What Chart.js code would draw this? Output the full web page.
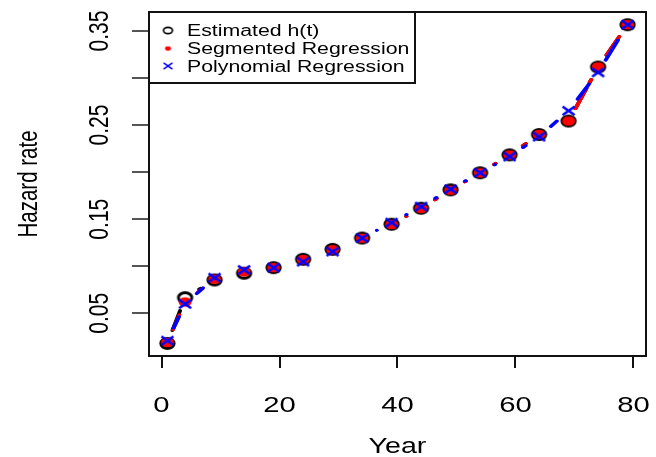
<!DOCTYPE html>
<html>
<head>
<meta charset="utf-8">
<script src="https://cdn.jsdelivr.net/npm/chart.js@4.4.1/dist/chart.umd.min.js"></script>
<style>
  html, body { margin: 0; padding: 0; background: #fff; }
  #wrap { width: 656px; height: 457px; }
</style>
</head>
<body>
<div id="wrap"><canvas id="hazardChart" width="656" height="457"></canvas></div>
<script>
// Data
const years = [1, 4, 9, 14, 19, 24, 29, 34, 39, 44, 49, 54, 59, 64, 69, 74, 79];
const estimated = [0.018, 0.0666, 0.0854, 0.0926, 0.0985, 0.1074, 0.118, 0.130, 0.1447, 0.1617, 0.1812, 0.1993, 0.2184, 0.240, 0.2543, 0.3117, 0.3567];
const segmented = [0.019, 0.062, 0.0862, 0.0940, 0.0985, 0.1070, 0.1175, 0.1298, 0.1445, 0.1615, 0.1808, 0.1992, 0.2182, 0.2400, 0.2543, 0.3117, 0.3567];
const polynomial = [0.0209, 0.0599, 0.0879, 0.0961, 0.0985, 0.1049, 0.1156, 0.130, 0.1464, 0.1634, 0.1819, 0.1993, 0.2166, 0.2377, 0.2652, 0.306, 0.3567];
const xTicks = [0, 20, 40, 60, 80];
const yTicks = [0.05, 0.10, 0.15, 0.20, 0.25, 0.30, 0.35];
const yTickLabels = ['0.05', '', '0.15', '', '0.25', '', '0.35'];
const seriesNames = ['Estimated h(t)', 'Segmented Regression', 'Polynomial Regression'];

// the reference is stretched sideways, so text, markers and lines are too
const SX = 1.33;
const FONT = '"Liberation Sans", Arial, sans-serif';
const GAP = 13.5;           // R type="b" leaves a gap round each point
const LINE_DASH = [22, 6];

function makeMarker(kind, rx, ry, lw) {
    const c = document.createElement('canvas');
    c.width = Math.ceil(rx * 2 + lw + 4);
    c.height = Math.ceil(ry * 2 + lw + 4);
    const g = c.getContext('2d');
    const cx = c.width / 2, cy = c.height / 2;
    g.lineWidth = lw;
    if (kind === 'ring') {
        g.strokeStyle = '#000';
        g.beginPath(); g.ellipse(cx, cy, rx, ry, 0, 0, Math.PI * 2); g.stroke();
    } else if (kind === 'dot') {
        g.fillStyle = '#ff0000';
        g.beginPath(); g.ellipse(cx, cy, rx, ry, 0, 0, Math.PI * 2); g.fill();
    } else {
        g.strokeStyle = '#0000ff';
        g.beginPath();
        g.moveTo(cx - rx, cy - ry); g.lineTo(cx + rx, cy + ry);
        g.moveTo(cx + rx, cy - ry); g.lineTo(cx - rx, cy + ry);
        g.stroke();
    }
    return c;
}

const ringImg = makeMarker('ring', 6.7, 5, 2.9);
const dotImg = makeMarker('dot', 6.5, 4.8, 1);
const crossImg = makeMarker('cross', 6, 4.3, 2.6);
const legendMarkers = [
    makeMarker('ring', 4.4, 3.2, 1.7),
    makeMarker('dot', 3, 2.2, 1),
    makeMarker('cross', 4.4, 3.2, 1.5)
];

function toPoints(values) {
    return years.map((t, i) => ({ x: t, y: values[i] }));
}

function wideText(ctx, str, x, y, size, align, rotated) {
    ctx.save();
    ctx.translate(x, y);
    if (rotated) {
        ctx.rotate(-Math.PI / 2);
        ctx.scale(1, SX);
    } else {
        ctx.scale(SX, 1);
    }
    ctx.font = size + 'px ' + FONT;
    ctx.fillStyle = '#000';
    ctx.textAlign = align;
    ctx.textBaseline = 'alphabetic';
    ctx.fillText(str, 0, 0);
    ctx.restore();
}

// Dashed connecting lines, cut short at each point like R's type="b"
const typeB = {
    id: 'typeB',
    beforeDatasetsDraw(chart) {
        const { ctx, scales: { x, y } } = chart;
        ctx.save();
        ctx.scale(SX, 1);
        ctx.lineWidth = 3;
        ctx.lineCap = 'round';
        ctx.setLineDash(LINE_DASH);
        chart.data.datasets.forEach(ds => {
            ctx.strokeStyle = ds.borderColor;
            for (let i = 0; i < ds.data.length - 1; i++) {
                const x0 = x.getPixelForValue(ds.data[i].x) / SX;
                const y0 = y.getPixelForValue(ds.data[i].y);
                const x1 = x.getPixelForValue(ds.data[i + 1].x) / SX;
                const y1 = y.getPixelForValue(ds.data[i + 1].y);
                const len = Math.hypot(x1 - x0, y1 - y0);
                if (len <= 2 * GAP) continue;
                const ux = (x1 - x0) / len, uy = (y1 - y0) / len;
                ctx.beginPath();
                ctx.moveTo(x0 + ux * GAP, y0 + uy * GAP);
                ctx.lineTo(x1 - ux * GAP, y1 - uy * GAP);
                ctx.stroke();
            }
        });
        ctx.restore();
    }
};

// Box, tick labels, axis titles and legend in the R base-graphics style
const rDecor = {
    id: 'rDecor',
    afterDraw(chart) {
        const { ctx, chartArea: a, scales: { x, y } } = chart;
        ctx.save();
        ctx.strokeStyle = '#111';
        ctx.lineWidth = 2;
        ctx.strokeRect(a.left, a.top, a.right - a.left, a.bottom - a.top);

        xTicks.forEach(v => wideText(ctx, String(v), x.getPixelForValue(v), 411.5, 22, 'center', false));
        yTicks.forEach((v, i) => {
            if (yTickLabels[i]) wideText(ctx, yTickLabels[i], 108, y.getPixelForValue(v), 21, 'center', true);
        });
        wideText(ctx, 'Year', x.getPixelForValue(40), 453, 21.5, 'center', false);
        wideText(ctx, 'Hazard rate', 37, (a.top + a.bottom) / 2, 20.5, 'center', true);

        // legend box
        const lx = a.left, ly = a.top, lw = 266, lh = 71;
        ctx.fillStyle = '#fff';
        ctx.fillRect(lx, ly, lw, lh);
        ctx.strokeRect(lx, ly, lw, lh);
        const rows = [30.5, 48.5, 66];
        seriesNames.forEach((name, i) => {
            const m = legendMarkers[i];
            ctx.drawImage(m, 168 - m.width / 2, rows[i] - m.height / 2);
            wideText(ctx, name, 187, rows[i] + 5.8, 16, 'left', false);
        });
        ctx.restore();
    }
};

function initChart() {
    const ctx = document.getElementById('hazardChart').getContext('2d');
    new Chart(ctx, {
        type: 'line',
        data: {
            datasets: [
                {
                    label: seriesNames[0],
                    data: toPoints(estimated),
                    borderColor: '#000',
                    showLine: false,
                    pointStyle: ringImg,
                    pointRadius: 7,
                    order: 3
                },
                {
                    label: seriesNames[1],
                    data: toPoints(segmented),
                    borderColor: '#ff0000',
                    showLine: false,
                    pointStyle: dotImg,
                    pointRadius: 7,
                    order: 2
                },
                {
                    label: seriesNames[2],
                    data: toPoints(polynomial),
                    borderColor: '#0000ff',
                    showLine: false,
                    pointStyle: crossImg,
                    pointRadius: 7,
                    order: 1
                }
            ]
        },
        options: {
            responsive: false,
            animation: false,
            events: [],
            layout: { padding: { top: 12, right: 10, left: 0, bottom: 0 } },
            plugins: {
                legend: { display: false },
                tooltip: { enabled: false }
            },
            scales: {
                x: {
                    type: 'linear',
                    min: -2.12,
                    max: 82.12,
                    afterBuildTicks: s => { s.ticks = xTicks.map(v => ({ value: v })); },
                    afterFit: s => { s.height = 101; },
                    ticks: { display: false },
                    border: { display: false },
                    grid: { drawOnChartArea: false, drawTicks: true, tickLength: 12, color: '#111', lineWidth: 2 }
                },
                y: {
                    type: 'linear',
                    min: 0.00462,
                    max: 0.3702,
                    afterBuildTicks: s => { s.ticks = yTicks.map(v => ({ value: v })); },
                    afterFit: s => { s.width = 149; },
                    ticks: { display: false },
                    border: { display: false },
                    grid: { drawOnChartArea: false, drawTicks: true, tickLength: 17, color: '#555', lineWidth: 2 }
                }
            }
        },
        plugins: [typeB, rDecor]
    });
}

document.addEventListener('DOMContentLoaded', initChart);
</script>
</body>
</html>
